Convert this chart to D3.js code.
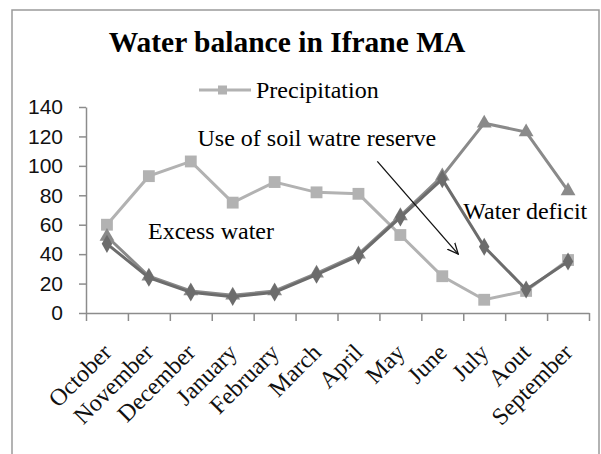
<!DOCTYPE html>
<html>
<head>
<meta charset="utf-8">
<script src="https://cdn.jsdelivr.net/npm/d3@7/dist/d3.min.js"></script>
<style>
  html, body { margin: 0; padding: 0; background: #fff; }
  svg { display: block; }
</style>
</head>
<body>
<svg id="chart" width="601" height="454"></svg>
<script>
const months = ["October","November","December","January","February","March","April","May","June","July","Aout","September"];
const precipitation = [60, 93, 103, 75, 89, 82, 81, 53, 25, 9, 15, 36];
const etp = [52, 25, 15, 12, 15, 27, 40, 66, 93, 129, 123, 83];
const etr = [47, 24, 14, 11, 14, 26, 39, 65, 91, 45, 16, 35];
const yTicks = [0, 20, 40, 60, 80, 100, 120, 140];
const title = "Water balance in Ifrane MA";
const legendLabel = "Precipitation";
// annotations in data units (band index position, value)
const notes = [
  {text: "Use of soil watre reserve", at: 2.66, v: 113.5},
  {text: "Excess water", at: 1.48, v: 50},
  {text: "Water deficit", at: 9.0, v: 64}
];
const arrow = {from: [6.95, 103], to: [8.88, 40]};

const svg = d3.select("#chart");
const L = 86, R = 589, T = 107, B = 313;

const x = d3.scaleBand().domain(months).range([L, R]);
const xi = d3.scaleLinear().domain([0, 12]).range([L, R]);
const y = d3.scaleLinear().domain([0, 140]).range([B, T]);

// outer border
svg.append("rect").attr("x", 12).attr("y", 10).attr("width", 587).attr("height", 470)
  .attr("fill", "#fff").attr("stroke", "#9a9a9a").attr("stroke-width", 1.5);

// title
svg.append("text").attr("x", 287).attr("y", 52).attr("text-anchor", "middle")
  .attr("font-family", "Liberation Serif, Times New Roman, serif")
  .attr("font-weight", "bold").attr("font-size", 29.5).attr("fill", "#000")
  .text(title);

// axes
const yAxis = d3.axisLeft(y).tickValues(yTicks).tickSize(7).tickSizeOuter(0).tickPadding(16);
const gy = svg.append("g").attr("transform", `translate(${L},0)`).call(yAxis);
gy.selectAll("path,line").attr("stroke", "#8c8c8c").attr("stroke-width", 1.5);
gy.selectAll("text").attr("font-family", "Liberation Sans, Arial, sans-serif")
  .attr("font-size", 21).attr("fill", "#111");

const xAxis = d3.axisBottom(xi).tickValues(d3.range(13)).tickSize(8).tickSizeOuter(0).tickFormat("");
const gx = svg.append("g").attr("transform", `translate(0,${B})`).call(xAxis);
gx.selectAll("path,line").attr("stroke", "#8c8c8c").attr("stroke-width", 1.5);

// month labels
svg.append("g").selectAll("text").data(months).join("text")
  .attr("transform", d => `translate(${x(d) + x.bandwidth() / 2 - 6},${B + 29}) rotate(-45)`)
  .attr("text-anchor", "end").attr("dy", "0.7em")
  .attr("font-family", "Liberation Serif, Times New Roman, serif")
  .attr("font-size", 24).attr("fill", "#111")
  .text(d => d);

const cx = (d, i) => x(months[i]) + x.bandwidth() / 2;
const line = d3.line().x((d, i) => cx(d, i)).y(d => y(d));

function series(vals, color, shape, size) {
  svg.append("path").datum(vals).attr("d", line)
    .attr("fill", "none").attr("stroke", color).attr("stroke-width", 3);
  svg.append("g").selectAll("path").data(vals).join("path")
    .attr("transform", (d, i) => `translate(${cx(d, i)},${y(d)})`)
    .attr("d", d3.symbol().type(shape).size(size))
    .attr("fill", color);
}
series(precipitation, "#b2b2b2", d3.symbolSquare, 140);
series(etp, "#8a8a8a", d3.symbolTriangle, 95);
series(etr, "#6c6c6c", d3.symbolDiamond, 95);

// legend
const lg = svg.append("g");
lg.append("line").attr("x1", 199).attr("x2", 251).attr("y1", 90).attr("y2", 90)
  .attr("stroke", "#b2b2b2").attr("stroke-width", 3);
lg.append("rect").attr("x", 218).attr("y", 85.5).attr("width", 9).attr("height", 9).attr("fill", "#b2b2b2");
lg.append("text").attr("x", 256).attr("y", 98)
  .attr("font-family", "Liberation Serif, Times New Roman, serif")
  .attr("font-size", 24).attr("fill", "#000").text(legendLabel);

// annotations
svg.append("g").selectAll("text").data(notes).join("text")
  .attr("x", d => xi(d.at)).attr("y", d => y(d.v))
  .attr("font-family", "Liberation Serif, Times New Roman, serif")
  .attr("font-size", 24).attr("fill", "#000").text(d => d.text);

// arrow
const defs = svg.append("defs");
defs.append("marker").attr("id", "arr").attr("viewBox", "0 0 12 12")
  .attr("refX", 11).attr("refY", 6).attr("markerWidth", 12).attr("markerHeight", 12)
  .attr("markerUnits", "userSpaceOnUse").attr("orient", "auto")
  .append("path").attr("d", "M0,1 L11,6 L0,11").attr("fill", "none")
  .attr("stroke", "#111").attr("stroke-width", 1.3);
svg.append("line")
  .attr("x1", xi(arrow.from[0])).attr("y1", y(arrow.from[1]))
  .attr("x2", xi(arrow.to[0])).attr("y2", y(arrow.to[1]))
  .attr("stroke", "#111").attr("stroke-width", 1.3).attr("marker-end", "url(#arr)");
</script>
</body>
</html>
